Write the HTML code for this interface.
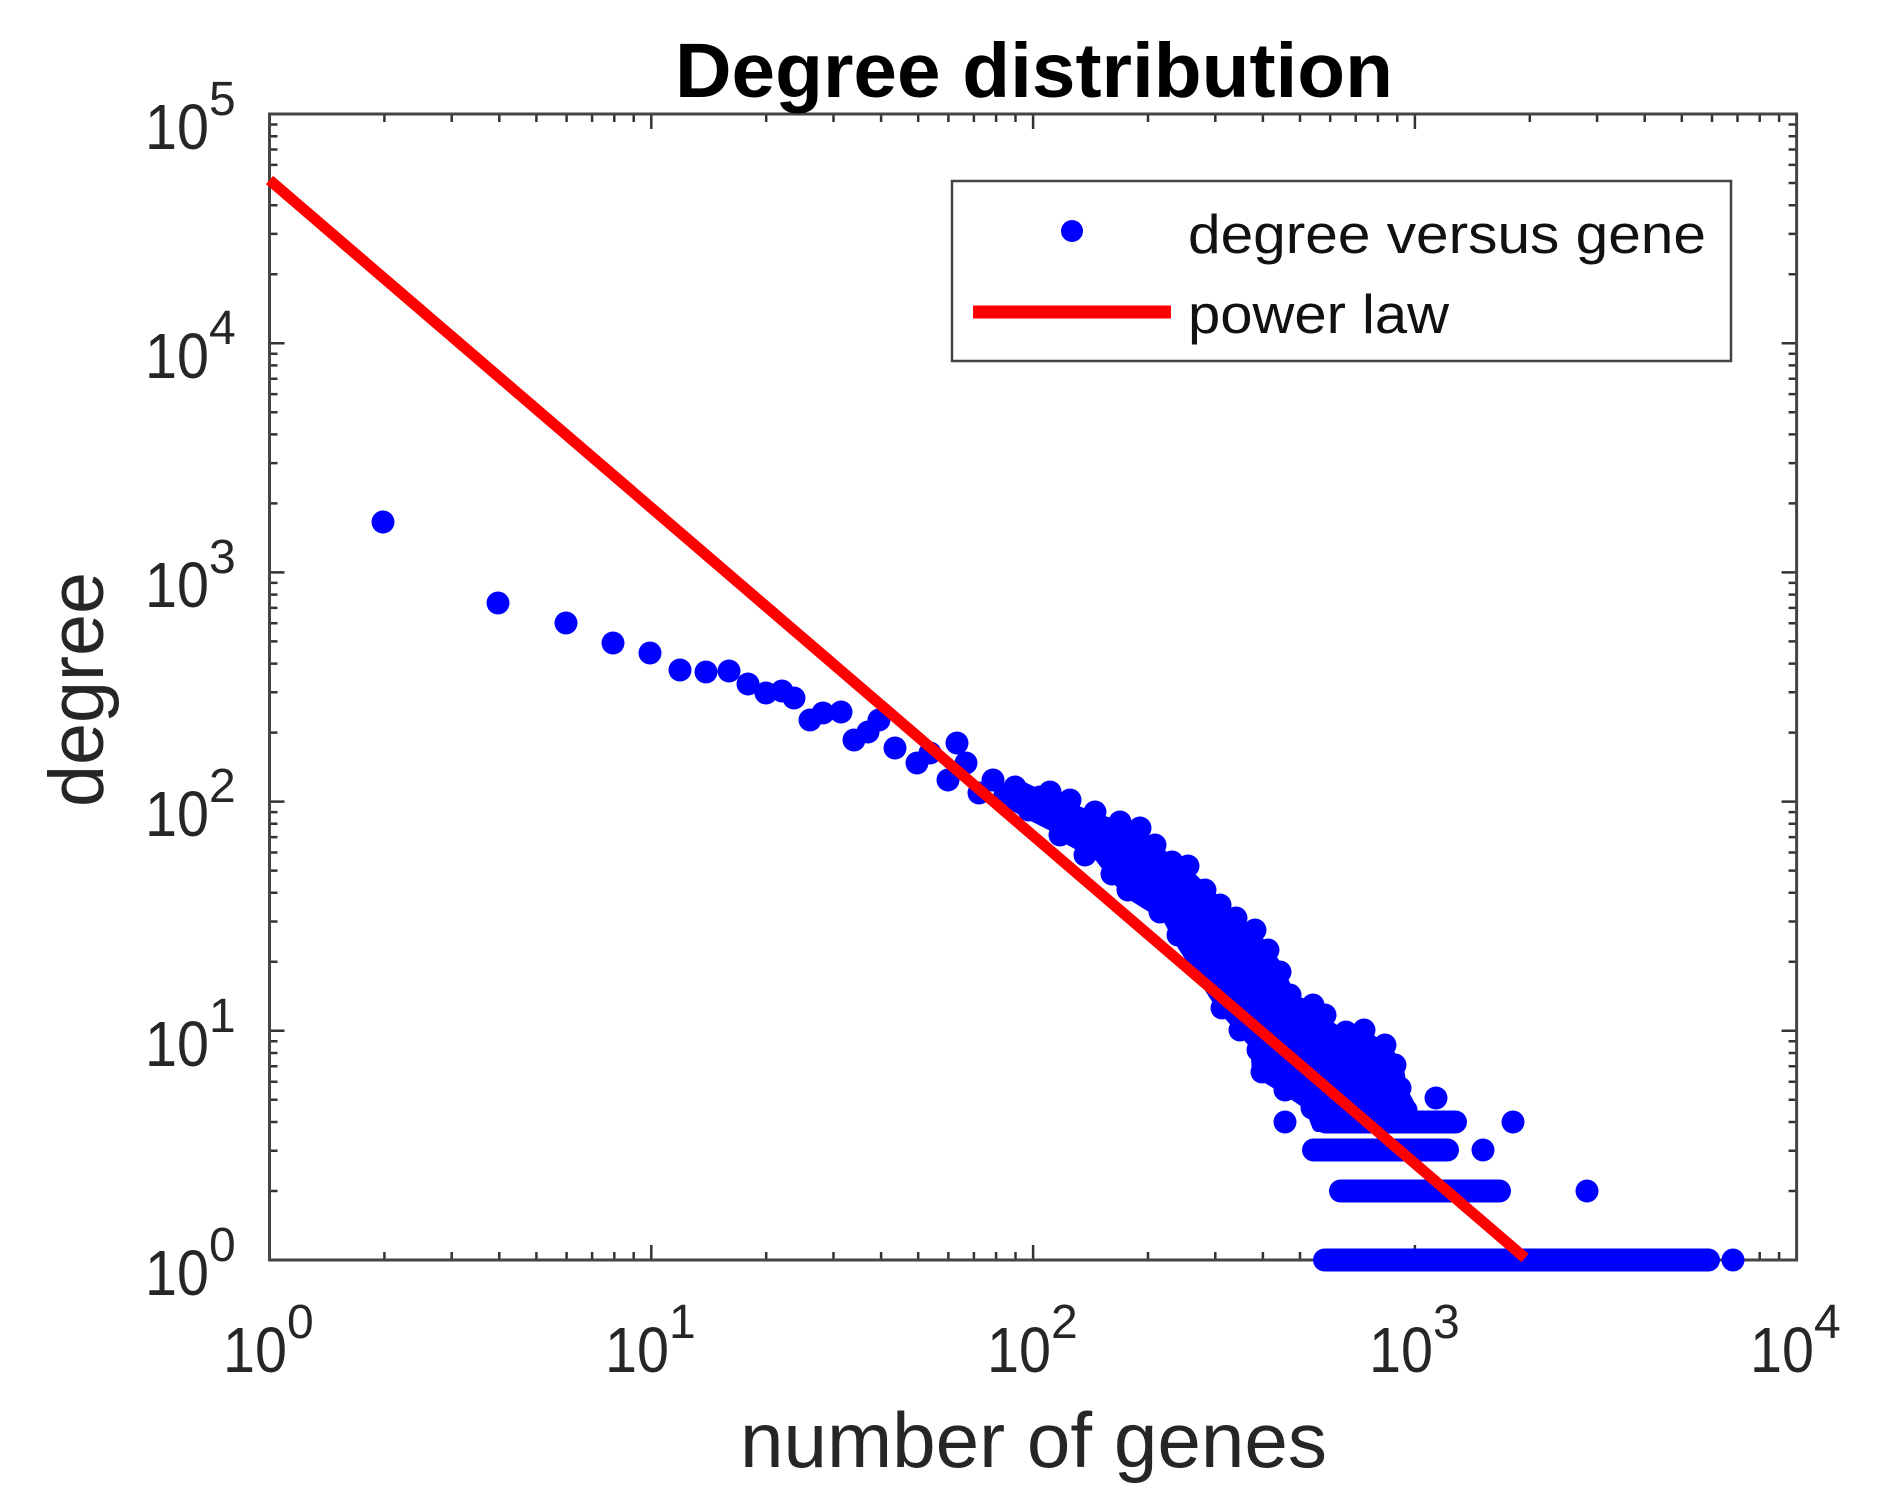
<!DOCTYPE html>
<html><head><meta charset="utf-8"><style>html,body{margin:0;padding:0;background:#fff}svg{display:block}</style></head>
<body>
<svg width="1899" height="1506" viewBox="0 0 1899 1506" xmlns="http://www.w3.org/2000/svg" font-family="Liberation Sans, Arial, sans-serif">
<defs>
<g id="xm" stroke="#333" stroke-width="2.5">
<path d="M114.9,1260v-8M182.2,1260v-8M229.8,1260v-8M266.9,1260v-8M297.1,1260v-8M322.6,1260v-8M344.8,1260v-8M364.2,1260v-8"/>
<path d="M114.9,114v8M182.2,114v8M229.8,114v8M266.9,114v8M297.1,114v8M322.6,114v8M344.8,114v8M364.2,114v8"/>
</g>
<g id="ym" stroke="#333" stroke-width="2.5">
<path d="M269.5,-69h8M269.5,-109.3h8M269.5,-138h8M269.5,-160.2h8M269.5,-178.3h8M269.5,-193.7h8M269.5,-207h8M269.5,-218.7h8"/>
<path d="M1796.6,-69h-8M1796.6,-109.3h-8M1796.6,-138h-8M1796.6,-160.2h-8M1796.6,-178.3h-8M1796.6,-193.7h-8M1796.6,-207h-8M1796.6,-218.7h-8"/>
</g>
</defs>
<rect width="1899" height="1506" fill="#fff"/>
<use href="#xm" transform="translate(269.5,0)"/>
<use href="#xm" transform="translate(651.3,0)"/>
<use href="#xm" transform="translate(1033.1,0)"/>
<use href="#xm" transform="translate(1414.9,0)"/>
<use href="#ym" transform="translate(0,1260)"/>
<use href="#ym" transform="translate(0,1030.8)"/>
<use href="#ym" transform="translate(0,801.6)"/>
<use href="#ym" transform="translate(0,572.4)"/>
<use href="#ym" transform="translate(0,343.2)"/>
<g stroke="#333" stroke-width="2.5">
<path d="M651.3,1260v-15M1033.1,1260v-15M1414.9,1260v-15M651.3,114v15M1033.1,114v15M1414.9,114v15"/>
<path d="M269.5,1030.8h15M269.5,801.6h15M269.5,572.4h15M269.5,343.2h15M1796.6,1030.8h-15M1796.6,801.6h-15M1796.6,572.4h-15M1796.6,343.2h-15"/>
</g>
<rect x="269.5" y="114" width="1527.1" height="1146" fill="none" stroke="#444" stroke-width="3"/>

<g fill="#0000ff">
<circle cx="383" cy="522" r="11.5"/><circle cx="498" cy="603" r="11.5"/><circle cx="566" cy="623" r="11.5"/>
<circle cx="613" cy="643" r="11.5"/><circle cx="650" cy="653" r="11.5"/><circle cx="680" cy="670" r="11.5"/>
<circle cx="706" cy="672" r="11.5"/><circle cx="729" cy="671" r="11.5"/><circle cx="748" cy="684" r="11.5"/>
<circle cx="766" cy="693" r="11.5"/><circle cx="782" cy="691" r="11.5"/><circle cx="794" cy="698" r="11.5"/>
<circle cx="810" cy="720" r="11.5"/><circle cx="823" cy="713" r="11.5"/><circle cx="841" cy="712" r="11.5"/>
<circle cx="854" cy="740" r="11.5"/><circle cx="868" cy="732" r="11.5"/><circle cx="879" cy="720" r="11.5"/>
<circle cx="895" cy="748" r="11.5"/><circle cx="917" cy="763" r="11.5"/><circle cx="930" cy="753" r="11.5"/>
<circle cx="948" cy="780" r="11.5"/><circle cx="957" cy="743" r="11.5"/><circle cx="966" cy="763" r="11.5"/>
<circle cx="979" cy="793" r="11.5"/><circle cx="993" cy="780" r="11.5"/><circle cx="1015" cy="787" r="11.5"/>
<circle cx="1029" cy="810" r="11.5"/><circle cx="1040" cy="797" r="11.5"/><circle cx="1005" cy="795" r="11.5"/>
<path stroke="#0000ff" stroke-width="12" stroke-linejoin="round" d="M1015,784 L1038,795 L1092,818 L1134,832 L1157,852 L1184,872 L1210,896 L1230,920 L1253,935 L1276,966 L1291,1000 L1321,1011 L1325,1024 L1344,1037 L1364,1036 L1387,1051 L1398,1070 L1402,1092 L1408,1103 L1407,1124 L1318,1126 L1310,1105 L1283,1087 L1258,1072 L1256,1045 L1222,1006 L1180,940 L1168,917 L1130,893 L1115,876 L1100,856 L1069,839 L1054,826 L1034,816 L1005,800 Z"/>
<!-- edge bumps -->
<circle cx="1050" cy="792" r="11.5"/><circle cx="1070" cy="800" r="11.5"/><circle cx="1095" cy="812" r="11.5"/>
<circle cx="1120" cy="822" r="11.5"/><circle cx="1140" cy="828" r="11.5"/><circle cx="1155" cy="845" r="11.5"/>
<circle cx="1172" cy="862" r="11.5"/><circle cx="1188" cy="866" r="11.5"/><circle cx="1205" cy="890" r="11.5"/>
<circle cx="1220" cy="905" r="11.5"/><circle cx="1236" cy="918" r="11.5"/><circle cx="1255" cy="930" r="11.5"/>
<circle cx="1268" cy="950" r="11.5"/><circle cx="1280" cy="972" r="11.5"/><circle cx="1290" cy="995" r="11.5"/>
<circle cx="1313" cy="1005" r="11.5"/><circle cx="1325" cy="1015" r="11.5"/><circle cx="1346" cy="1032" r="11.5"/>
<circle cx="1364" cy="1030" r="11.5"/><circle cx="1385" cy="1045" r="11.5"/><circle cx="1395" cy="1065" r="11.5"/>
<circle cx="1400" cy="1088" r="11.5"/><circle cx="1406" cy="1110" r="11.5"/>
<circle cx="1060" cy="835" r="11.5"/><circle cx="1085" cy="855" r="11.5"/><circle cx="1112" cy="874" r="11.5"/>
<circle cx="1128" cy="890" r="11.5"/><circle cx="1160" cy="912" r="11.5"/><circle cx="1178" cy="935" r="11.5"/>
<circle cx="1195" cy="965" r="11.5"/><circle cx="1222" cy="1008" r="11.5"/><circle cx="1240" cy="1030" r="11.5"/>
<circle cx="1258" cy="1050" r="11.5"/><circle cx="1262" cy="1072" r="11.5"/><circle cx="1285" cy="1090" r="11.5"/>
<circle cx="1312" cy="1108" r="11.5"/>
<circle cx="1285" cy="1122" r="11.5"/><circle cx="1513" cy="1122" r="11.5"/>
<circle cx="1436" cy="1098" r="11.5"/><circle cx="1483" cy="1150" r="11.5"/>
<circle cx="1587" cy="1191" r="11.5"/><circle cx="1733" cy="1260" r="11.5"/>
<circle cx="1380" cy="1082" r="11.5"/><circle cx="1395" cy="1095" r="11.5"/>
</g>
<g stroke="#0000ff" stroke-width="23" stroke-linecap="round">
<path d="M1325.5,1122H1455.5M1313.5,1150H1447.5M1340.5,1191H1499.5M1324.5,1260H1708.5"/>
</g>

<line x1="269.5" y1="180" x2="1525" y2="1258" stroke="#ff0000" stroke-width="11"/>

<rect x="952" y="181" width="779" height="180" fill="#fff" stroke="#444" stroke-width="2.5"/>
<circle cx="1072" cy="231" r="11" fill="#0000ff"/>
<line x1="973" y1="312" x2="1171" y2="312" stroke="#ff0000" stroke-width="13"/>
<text x="1188" y="253" font-size="55" fill="#111" textLength="518" lengthAdjust="spacingAndGlyphs">degree versus gene</text>
<text x="1188" y="333" font-size="55" fill="#111" textLength="261" lengthAdjust="spacingAndGlyphs">power law</text>

<text x="675" y="97" font-size="77" font-weight="bold" fill="#000" textLength="718" lengthAdjust="spacingAndGlyphs">Degree distribution</text>

<g fill="#262626" font-size="64">
<text x="223" y="1372" textLength="64" lengthAdjust="spacingAndGlyphs">10</text><text x="287" y="1338" font-size="48">0</text>
<text x="605" y="1372" textLength="64" lengthAdjust="spacingAndGlyphs">10</text><text x="669" y="1338" font-size="48">1</text>
<text x="987" y="1372" textLength="64" lengthAdjust="spacingAndGlyphs">10</text><text x="1051" y="1338" font-size="48">2</text>
<text x="1369" y="1372" textLength="64" lengthAdjust="spacingAndGlyphs">10</text><text x="1433" y="1338" font-size="48">3</text>
<text x="1750" y="1372" textLength="64" lengthAdjust="spacingAndGlyphs">10</text><text x="1814" y="1338" font-size="48">4</text>
</g>
<g fill="#262626" font-size="64">
<text x="145" y="149" textLength="64" lengthAdjust="spacingAndGlyphs">10</text><text x="209" y="115" font-size="48">5</text>
<text x="145" y="378" textLength="64" lengthAdjust="spacingAndGlyphs">10</text><text x="209" y="344" font-size="48">4</text>
<text x="145" y="607" textLength="64" lengthAdjust="spacingAndGlyphs">10</text><text x="209" y="573" font-size="48">3</text>
<text x="145" y="836" textLength="64" lengthAdjust="spacingAndGlyphs">10</text><text x="209" y="802" font-size="48">2</text>
<text x="145" y="1066" textLength="64" lengthAdjust="spacingAndGlyphs">10</text><text x="209" y="1032" font-size="48">1</text>
<text x="145" y="1295" textLength="64" lengthAdjust="spacingAndGlyphs">10</text><text x="209" y="1261" font-size="48">0</text>
</g>

<text x="740" y="1467" font-size="78" fill="#262626" textLength="587" lengthAdjust="spacingAndGlyphs">number of genes</text>
<text transform="translate(103,807) rotate(-90)" x="0" y="0" font-size="77" fill="#262626" textLength="235" lengthAdjust="spacingAndGlyphs">degree</text>
</svg>
</body></html>
